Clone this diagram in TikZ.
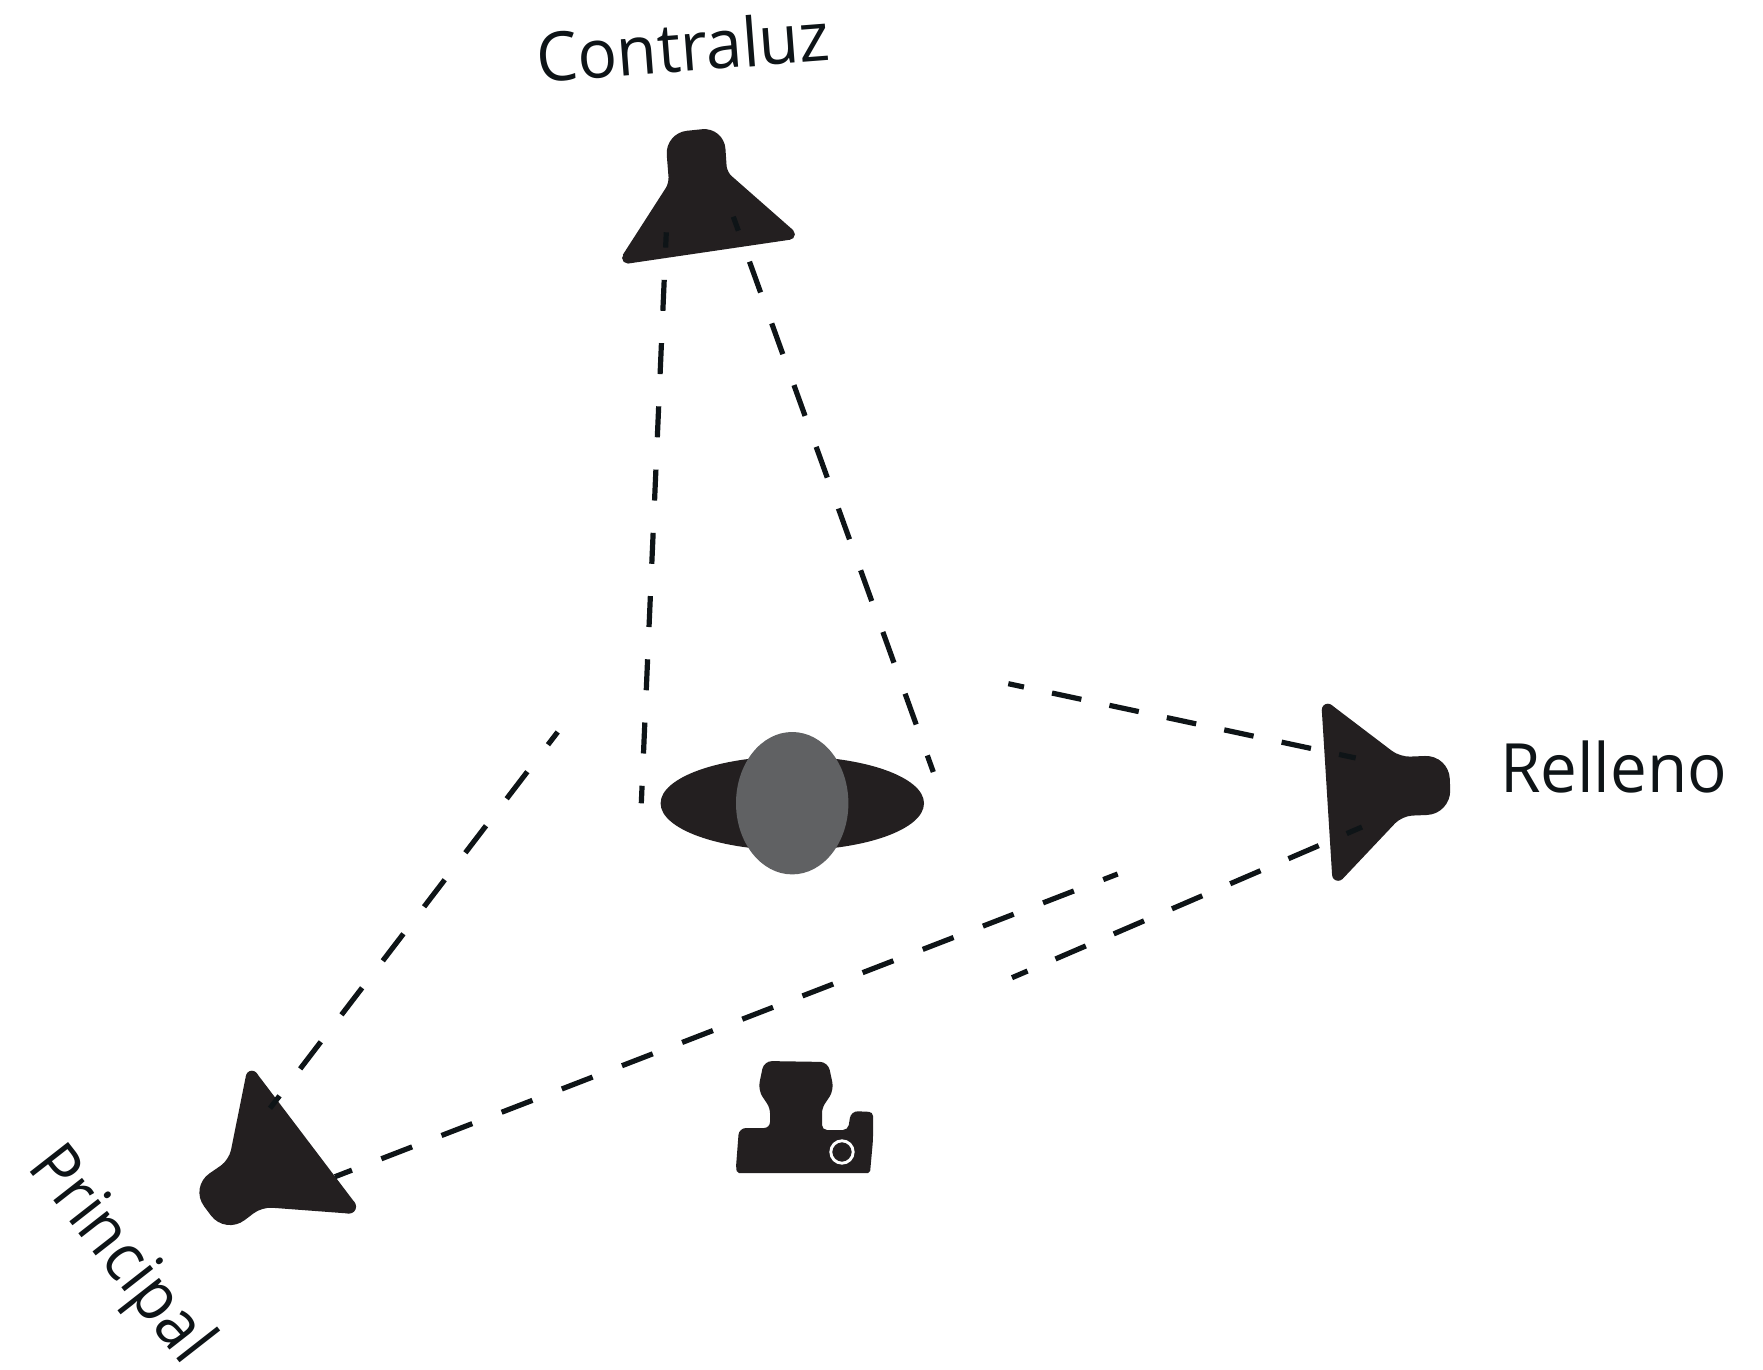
\documentclass[tikz,border=0pt]{standalone}
\usepackage{fontspec}
\setmainfont{Open Sans}
\definecolor{lampcol}{HTML}{231F20}
\definecolor{raycol}{HTML}{0E1417}
\definecolor{headcol}{HTML}{606163}
\tikzset{
  lamp/.style={fill=lampcol,draw=none},
  ray/.style={draw=raycol,line width=2.6pt,line cap=butt},
  lbl/.style={text=raycol,font=\fontsize{34}{40}\selectfont,inner sep=0pt,outer sep=0pt,anchor=base west}
}
\begin{document}
\begin{tikzpicture}[x=0.5pt,y=-0.5pt]
\useasboundingbox (0,0) rectangle (1763,1370);
\fill[white] (0,0) rectangle (1763,1370);
% subject
\fill[lampcol] (792.3,803.3) ellipse [x radius=131.7,y radius=47];
\fill[headcol] (792.2,803.2) ellipse [x radius=56.2,y radius=71.2];
% back light
\fill[lamp] (628.4,263.5) -- (790.2,239.7) -- (793.1,230.1) [rounded corners=3pt] -- (727,172) [rounded corners=11pt] -- (724,127) -- (665,133) [rounded corners=3pt] -- (669,183) [sharp corners] -- (622.9,254.7) -- cycle;
\fill[lamp] (627.6,258) circle [radius=5.5] (789.4,234.3) circle [radius=5.5];
% fill light
\fill[lamp] (1321.8,710.1) -- (1332.1,875.2) -- (1342.5,879) [rounded corners=5pt] -- (1402,816) [rounded corners=12pt] -- (1451,814) -- (1449,755) [rounded corners=5pt] -- (1400,757) [sharp corners] -- (1331.4,704.9) -- cycle;
\fill[lamp] (1327.8,709.7) circle [radius=6] (1338.1,874.8) circle [radius=6];
% key light
\fill[lamp] (256.6,1073.1) -- (354.6,1202.4) -- (348.5,1213.5) [rounded corners=5pt] -- (262,1207) [rounded corners=12pt] -- (225.3,1234.7) -- (189.7,1187) [rounded corners=5pt] -- (229,1160) [sharp corners] -- (246,1075.5) -- cycle;
\fill[lamp] (251.9,1076.7) circle [radius=6] (349.1,1206.6) circle [radius=7];
% camera
\fill[lamp] [rounded corners=4pt] (764,1061) -- (828,1062) -- (834,1090) [rounded corners=2.5pt] -- (822,1108) -- (822,1130) -- (848,1130) [rounded corners=3.5pt] -- (851,1111) [rounded corners=2pt] -- (873,1112) -- (873,1140) [rounded corners=1pt] -- (870,1173) -- (737,1173) -- (736,1167) [rounded corners=3.5pt] -- (739,1128) [rounded corners=3pt] -- (770,1128) [rounded corners=2.5pt] -- (770,1108) [rounded corners=4pt] -- (758,1090) -- cycle;
\draw[white,line width=1.45pt] (842,1152) circle [radius=11.2];
% ray end points
\coordinate (backA) at (666.3,232.3);
\coordinate (subjA) at (641.3,803.3);
\coordinate (backB) at (733.3,216.7);
\coordinate (subjB) at (933.3,772);
\coordinate (fillA) at (1355.7,758);
\coordinate (subjC) at (1008.3,683.7);
\coordinate (fillB) at (1362,827);
\coordinate (subjD) at (1012,977.7);
\coordinate (keyA) at (270,1108.3);
\coordinate (subjE) at (557.7,732);
\coordinate (keyB) at (335,1176.7);
\coordinate (subjF) at (1117.7,874);
% rays
\draw[ray,dash pattern=on 15.5pt off 16.15pt,dash phase=7.85pt] (backA) -- (subjA);
\draw[ray,dash pattern=on 16.35pt off 16.45pt,dash phase=8.9pt] (backB) -- (subjB);
\draw[ray,dash pattern=on 15pt off 14.35pt,dash phase=7pt] (subjC) -- (fillA);
\draw[ray,dash pattern=on 16.5pt off 15.2pt,dash phase=8.15pt] (fillB) -- (subjD);
\draw[ray,dash pattern=on 16.5pt off 15.75pt,dash phase=8.75pt] (subjF) -- (keyB);
\draw[ray,dash pattern=on 17pt off 17pt,dash phase=9pt] (subjE) -- (keyA);
% labels
\node[lbl,rotate=4.4,xscale=0.966] (contraluz) at (538,83) {Contraluz};
\node[lbl,xscale=0.965] (relleno) at (1500,792) {Relleno};
\node[lbl,rotate=-52,xscale=0.925] (principal) at (27,1167) {Principal};
\end{tikzpicture}
\end{document}
